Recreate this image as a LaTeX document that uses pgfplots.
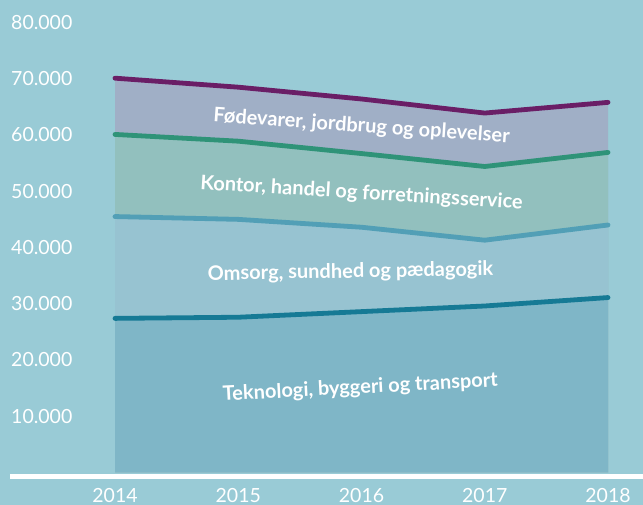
\documentclass[border=0pt]{standalone}
\usepackage{pgfplots}
\pgfplotsset{compat=1.18}
\usepackage{fontspec}
\setmainfont{Lato}
\definecolor{bg}{HTML}{99CBD6}
\definecolor{aFod}{HTML}{A0AFC6}
\definecolor{aKon}{HTML}{92C0BE}
\definecolor{aOms}{HTML}{97C3D1}
\definecolor{aTek}{HTML}{7FB6C7}
\definecolor{lFod}{HTML}{6A1E66}
\definecolor{lKon}{HTML}{2F9378}
\definecolor{lOms}{HTML}{529FB6}
\definecolor{lTek}{HTML}{167A95}
\begin{document}
\begin{tikzpicture}
\fill[bg] (-10pt,-32.5pt) rectangle (633pt,472.5pt);
\begin{axis}[at={(0,0)}, anchor=south west, scale only axis,
  width=633pt, height=450pt,
  xmin=2013.148, xmax=2018.284, ymin=0, ymax=80000, clip=false,
  axis line style={draw=none}, major tick length=0pt,
  xtick={2014,2015,2016,2017,2018},
  xticklabels={2014,2015,2016,2017,2018},
  ytick={10000,20000,30000,40000,50000,60000,70000,80000},
  yticklabels={10.000,20.000,30.000,40.000,50.000,60.000,70.000,80.000},
  ticklabel style={font=\fontsize{19.5}{20}\selectfont, text=white},
  yticklabel style={anchor=west, inner sep=0pt, xshift=1pt},
  xticklabel style={anchor=north, inner sep=0pt, yshift=-16pt},
  /pgf/number format/assume math mode=true,
  scaled y ticks=false]
% areas (cumulative tops)
\addplot[draw=none, fill=aFod] coordinates {(2014,70100)(2015,68500)(2016,66400)(2017,63900)(2018,65800)} \closedcycle;
\addplot[draw=none, fill=aKon] coordinates {(2014,60100)(2015,58900)(2016,56700)(2017,54400)(2018,56900)} \closedcycle;
\addplot[draw=none, fill=aOms] coordinates {(2014,45500)(2015,45000)(2016,43600)(2017,41300)(2018,44000)} \closedcycle;
\addplot[draw=none, fill=aTek] coordinates {(2014,27400)(2015,27600)(2016,28600)(2017,29600)(2018,31100)} \closedcycle;
% lines
\addplot[lFod, line width=4.8pt, line cap=round, line join=round] coordinates {(2014,70100)(2015,68500)(2016,66400)(2017,63900)(2018,65800)};
\addplot[lKon, line width=4.8pt, line cap=round, line join=round] coordinates {(2014,60100)(2015,58900)(2016,56700)(2017,54400)(2018,56900)};
\addplot[lOms, line width=4.8pt, line cap=round, line join=round] coordinates {(2014,45500)(2015,45000)(2016,43600)(2017,41300)(2018,44000)};
\addplot[lTek, line width=4.8pt, line cap=round, line join=round] coordinates {(2014,27400)(2015,27600)(2016,28600)(2017,29600)(2018,31100)};
% baseline
\draw[white, line width=4.5pt] (axis cs:2013.148,-711) -- (axis cs:2018.284,-711);
% labels
\node[rotate=3, text=white, font=\bfseries\fontsize{20}{22}\selectfont] at (axis cs:2015.99,15000) {Teknologi, byggeri og transport};
\node[rotate=1, text=white, font=\bfseries\fontsize{20}{22}\selectfont] at (axis cs:2015.91,35600) {Omsorg, sundhed og pædagogik};
\node[rotate=-3.5, text=white, font=\bfseries\fontsize{20}{22}\selectfont] at (axis cs:2016.0,49600) {Kontor, handel og forretningsservice};
\node[rotate=-4, text=white, font=\bfseries\fontsize{20}{22}\selectfont] at (axis cs:2016.0,61500) {Fødevarer, jordbrug og oplevelser};
\end{axis}
\pgfresetboundingbox
\useasboundingbox (-10pt,-32.5pt) rectangle (633pt,472.5pt);
\end{tikzpicture}
\end{document}
